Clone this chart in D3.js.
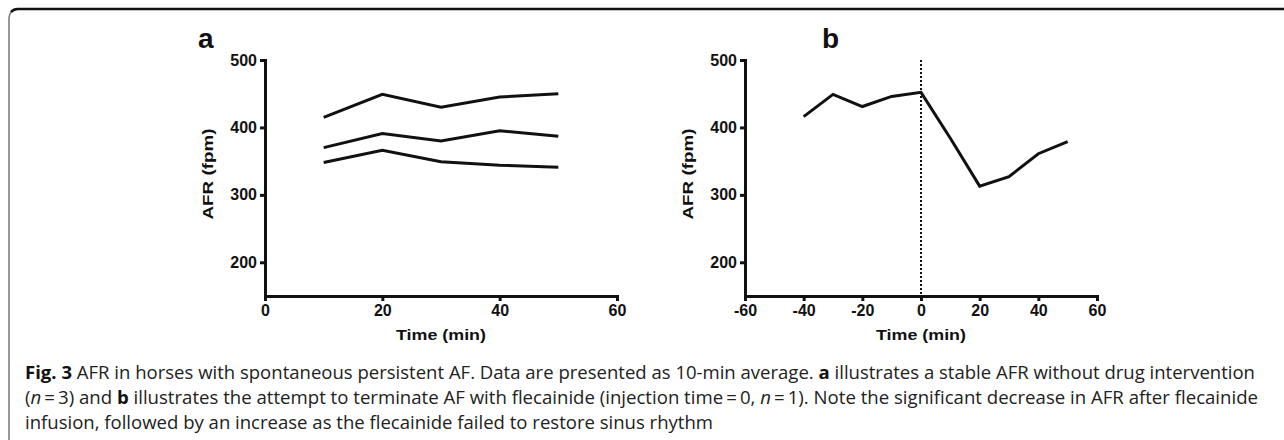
<!DOCTYPE html>
<html>
<head>
<meta charset="utf-8">
<script src="https://cdn.jsdelivr.net/npm/d3@7"></script>
<style>
  body { margin: 0; background: #fff; }
  svg { display: block; }
  .tick text { font-family: "Liberation Sans", Arial, sans-serif; font-weight: bold; font-size: 16px; fill: #111; }
</style>
</head>
<body>
<div id="chart"></div>
<script>
// panel a: three horses, no drug
const timesA = [10, 20, 30, 40, 50];
const horse1 = [415, 449, 430, 445, 450];
const horse2 = [370, 391, 380, 395, 387];
const horse3 = [348, 366, 349, 344, 341];

// panel b: flecainide at t = 0
const timesB = [-40, -30, -20, -10, 0, 10, 20, 30, 40, 50];
const afrB = [416, 449, 431, 446, 452, 384, 313, 327, 361, 379];

const yTicks = [200, 300, 400, 500];
const xTicksA = [0, 20, 40, 60];
const xTicksB = [-60, -40, -20, 0, 20, 40, 60];

const W = 1284, H = 440;
const svg = d3.select('#chart').append('svg')
    .attr('width', W)
    .attr('height', H);

// frame
svg.append('path')
    .attr('d', 'M9,440 V18 A9,9 0 0 1 18,9')
    .attr('fill', 'none')
    .attr('stroke', '#777')
    .attr('stroke-width', 1.5);
svg.append('path')
    .attr('d', 'M11,12 A9,9 0 0 1 18,9 H1284')
    .attr('fill', 'none')
    .attr('stroke', '#111')
    .attr('stroke-width', 2.5);

const plotTop = 60, plotBottom = 296;
const fmt = d => String(d);   // plain hyphen for negatives

function panel(opt) {
    const x = d3.scaleLinear().domain(opt.xDomain).range([opt.left, opt.right]);
    const y = d3.scaleLinear().domain([150, 500]).range([plotBottom, plotTop]);
    const g = svg.append('g');

    const ya = g.append('g')
        .attr('transform', 'translate(' + opt.left + ',0)')
        .call(d3.axisLeft(y).tickValues(yTicks).tickFormat(fmt).tickSize(5).tickSizeOuter(0).tickPadding(3));
    const xa = g.append('g')
        .attr('transform', 'translate(0,' + plotBottom + ')')
        .call(d3.axisBottom(x).tickValues(opt.xTicks).tickFormat(fmt).tickSize(5).tickSizeOuter(0).tickPadding(4));
    [ya, xa].forEach(a => {
        a.select('.domain').attr('stroke', '#111').attr('stroke-width', 3).attr('stroke-linecap', 'square');
        a.selectAll('.tick line').attr('stroke', '#111').attr('stroke-width', 3);
    });

    if (opt.marker !== undefined) {
        g.append('line')
            .attr('x1', x(opt.marker)).attr('x2', x(opt.marker))
            .attr('y1', y(500)).attr('y2', plotBottom)
            .attr('stroke', '#111')
            .attr('stroke-width', 2)
            .attr('stroke-dasharray', '2,2');
    }

    const line = d3.line().x(d => x(d[0])).y(d => y(d[1]));
    opt.series.forEach(s => {
        g.append('path')
            .datum(d3.zip(opt.times, s))
            .attr('d', line)
            .attr('fill', 'none')
            .attr('stroke', '#111')
            .attr('stroke-width', 3)
            .attr('stroke-linejoin', 'miter');
    });

    // axis titles
    g.append('text')
        .attr('x', (opt.left + opt.right) / 2)
        .attr('y', 340)
        .attr('text-anchor', 'middle')
        .attr('font-family', 'Liberation Sans, Arial, sans-serif')
        .attr('font-weight', 'bold')
        .attr('font-size', 15)
        .attr('textLength', 90)
        .attr('lengthAdjust', 'spacingAndGlyphs')
        .attr('fill', '#111')
        .text('Time (min)');
    g.append('text')
        .attr('transform', 'translate(' + (opt.left - 52) + ',174) rotate(-90)')
        .attr('text-anchor', 'middle')
        .attr('font-family', 'Liberation Sans, Arial, sans-serif')
        .attr('font-weight', 'bold')
        .attr('font-size', 15)
        .attr('textLength', 91)
        .attr('lengthAdjust', 'spacingAndGlyphs')
        .attr('fill', '#111')
        .text('AFR (fpm)');
    g.append('text')
        .attr('x', opt.labelX)
        .attr('y', 48)
        .attr('font-family', 'Liberation Sans, Arial, sans-serif')
        .attr('font-weight', 'bold')
        .attr('font-size', 28)
        .attr('fill', '#111')
        .text(opt.label);
}

panel({ label: 'a', labelX: 198, left: 265, right: 617, xDomain: [0, 60], xTicks: xTicksA,
        times: timesA, series: [horse1, horse2, horse3] });
panel({ label: 'b', labelX: 822, left: 745, right: 1097, xDomain: [-60, 60], xTicks: xTicksB,
        times: timesB, series: [afrB], marker: 0 });

// caption
const cap = svg.append('g')
    .attr('font-family', 'Open Sans, Noto Sans, sans-serif')
    .attr('font-size', 18)
    .attr('fill', '#222');

const lines = [
    { y: 379, len: 1230, parts: [['Fig. 3', 'b'], [' AFR in horses with spontaneous persistent AF. Data are presented as 10-min average. '], ['a', 'b'], [' illustrates a stable AFR without drug intervention']] },
    { y: 404, len: 1233, parts: [['('], ['n', 'i'], ['\u2009=\u20093) and '], ['b', 'b'], [' illustrates the attempt to terminate AF with flecainide (injection time\u2009=\u20090, '], ['n', 'i'], ['\u2009=\u20091). Note the significant decrease in AFR after flecainide']] },
    { y: 429, len: 688, parts: [['infusion, followed by an increase as the flecainide failed to restore sinus rhythm']] }
];
lines.forEach(l => {
    const t = cap.append('text').attr('x', 25).attr('y', l.y)
        .attr('textLength', l.len).attr('lengthAdjust', 'spacingAndGlyphs');
    l.parts.forEach(p => {
        const ts = t.append('tspan').text(p[0]);
        if (p[1] === 'b') ts.attr('font-weight', 'bold').attr('fill', '#111');
        if (p[1] === 'i') ts.attr('font-style', 'italic');
    });
});
</script>
</body>
</html>
